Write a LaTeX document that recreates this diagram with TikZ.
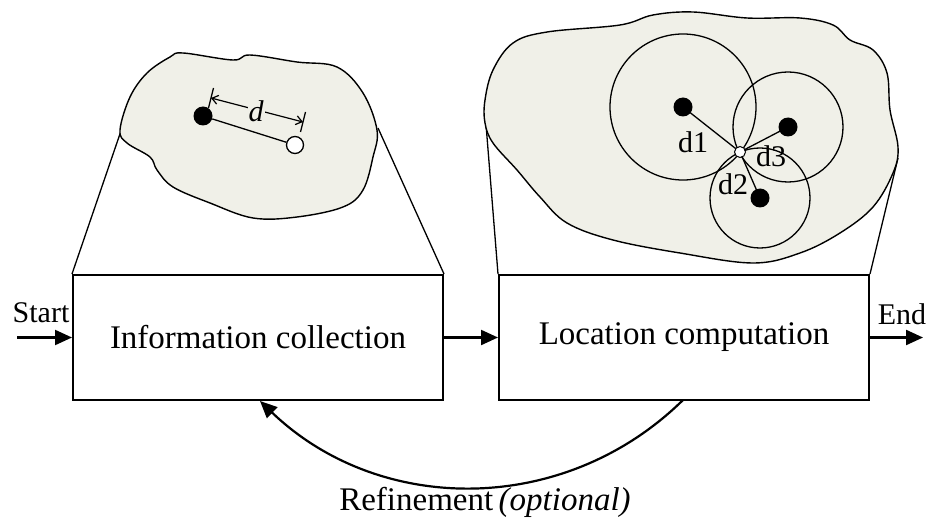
\documentclass[tikz,border=0pt]{standalone}
\usepackage{fontspec}
\setmainfont{Liberation Serif}
\usetikzlibrary{arrows.meta}
\definecolor{blobfill}{HTML}{F0F0E8}
\tikzset{
  box/.style={draw, line width=2pt, minimum width=370pt, minimum height=125pt,
    inner sep=0pt, font=\fontsize{33}{38}\selectfont},
  blob/.style={draw, line width=1.4pt, fill=blobfill},
  flow/.style={line width=2.2pt, -{Triangle[length=17pt,width=15pt]}},
  thin link/.style={line width=1.3pt},
  blackdot/.style={circle, fill=black, inner sep=0pt, minimum size=19pt},
  whitedot/.style={circle, draw, fill=white, line width=1.3pt, inner sep=0pt, minimum size=17pt},
  smalldot/.style={circle, draw, fill=white, line width=1pt, inner sep=0pt, minimum size=11pt},
  lbl/.style={font=\fontsize{30}{34}\selectfont, inner sep=1pt},
  dimtip/.style={line width=1.2pt, {Straight Barb[length=6pt,width=9pt]}-{Straight Barb[length=6pt,width=9pt]}},
}
\begin{document}
\begin{tikzpicture}[x=1pt,y=-1pt]
\useasboundingbox (0,0) rectangle (928,521);

% process boxes
\node[box] (info) at (258,337.5) {Information collection};
\node[box] (loc) at (684,337.5) {Location computation};

% zoom lines from the boxes up to the detail regions
\coordinate (lbl1) at (122,128);
\coordinate (lbr1) at (378,128);
\coordinate (rbl1) at (485,112);
\coordinate (rbr1) at (898,158);
\draw[thin link] (info.north west) -- (lbl1);
\draw[thin link] (info.north east) -- (lbr1);
\draw[thin link] (loc.north west) -- (rbl1);
\draw[thin link] (loc.north east) -- (rbr1);

% left detail: measured distance between two points
\draw[blob] plot[smooth cycle, tension=0.6] coordinates {
  (183,53) (233,60) (250,55) (297,62) (337,67) (363,93) (377,130) (373,157)
  (363,190) (343,207) (297,217) (253,218) (210,203) (173,187) (157,170)
  (150,157) (127,143) (120,130) (130,97) (147,73) (170,57)};
\node[blackdot] (p) at (203,116) {};
\node[whitedot] (q) at (295,145) {};
\draw[thin link] (p) -- (q);
\coordinate (da) at (211,98);
\coordinate (db) at (303,122);
\draw[thin link] (213.5,88) -- (208.5,108);
\draw[thin link] (305.5,112) -- (300.5,132);
\draw[dimtip] (da) -- (db);
\node[lbl, fill=blobfill, font=\fontsize{30}{34}\selectfont\itshape] (dl) at (256,111) {d};

% right detail: trilateration from three reference points
\draw[blob] plot[smooth cycle, tension=0.6] coordinates {
  (493,70) (513,43) (547,32) (620,25) (653,15) (693,12) (747,18) (800,18)
  (833,25) (850,40) (873,50) (887,73) (890,110) (898,147) (893,173) (873,207)
  (840,233) (800,253) (753,263) (680,253) (613,240) (567,223) (540,197)
  (517,170) (493,143) (485,123) (485,100)};
\coordinate (c1) at (683,107);
\coordinate (c2) at (760,198);
\coordinate (c3) at (788,127);
\coordinate (x0) at (740,152);
\draw[thin link] (c1) circle[radius=73];
\draw[thin link] (c2) circle[radius=50];
\draw[thin link] (c3) circle[radius=55];
\draw[thin link] (c1) -- (x0);
\draw[thin link] (c2) -- (x0);
\draw[thin link] (c3) -- (x0);
\node[blackdot] (b1) at (c1) {};
\node[blackdot] (b2) at (c2) {};
\node[blackdot] (b3) at (c3) {};
\node[smalldot] (est) at (x0) {};
\node[lbl] (d1) at (693,142) {d1};
\node[lbl] (d3) at (771,156) {d3};
\node[lbl] (d2) at (733,184) {d2};

% flow arrows
\coordinate (startpt) at (17,337.5);
\coordinate (endpt) at (923,337.5);
\node[lbl] (startl) at (41,313) {Start};
\node[lbl] (endl) at (902,314) {End};
\draw[flow] (startpt) -- (info.west);
\draw[flow] (info.east) -- (loc.west);
\draw[flow] (loc.east) -- (endpt);

% feedback loop
\coordinate (fbs) at (683,400);
\coordinate (fbe) at (260,401);
\draw[flow] (fbs) .. controls (565,516) and (380,516) .. (fbe);
\node[font=\fontsize{33}{38}\selectfont, inner sep=0pt] (refl) at (485,502)
  {Refinement\,\textit{(optional)}};
\end{tikzpicture}
\end{document}
